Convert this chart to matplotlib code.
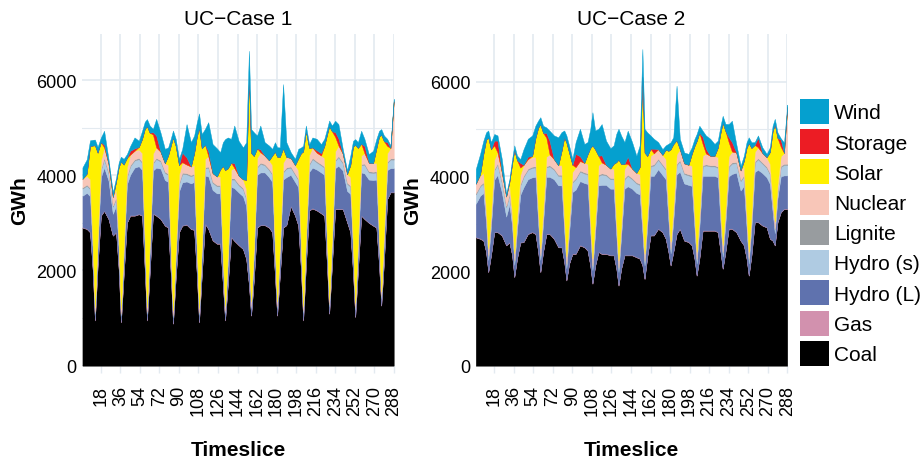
"""Despacho horario por tecnología: UC-Case 1 vs UC-Case 2 (288 timeslices).

Valores leídos a ojo del gráfico original, muestreados en 8 horas por día
(12 días de 24 timeslices) más el último timeslice.
"""

import matplotlib

matplotlib.use("Agg")  # Sin display.
import matplotlib.pyplot as plt
from matplotlib.patches import Patch

plt.rcParams["font.family"] = ["Liberation Sans", "DejaVu Sans"]

HORAS_MUESTRA = [1, 5, 8, 10.5, 12.5, 15, 18, 21]
DIAS = 12
ULTIMO_TIMESLICE = 288

TECNOLOGIAS = ["Coal", "Gas", "Hydro (L)", "Hydro (s)", "Lignite",
               "Nuclear", "Solar", "Storage", "Wind"]
COLORES = ["#000000", "#D291AE", "#5F72AE", "#AFCBE2", "#989C9F",
           "#F8C6B8", "#FFF000", "#EC1C24", "#05A0CF"]
TICKS_X = [18, 36, 54, 72, 90, 108, 126, 144, 162, 180, 198, 216, 234, 252, 270, 288]
TICKS_Y = [0, 2000, 4000, 6000]

# ---------------------------------------------------------------- UC-Case 1
COAL_1 = [
    2900, 2870, 2800, 2000, 950, 2100, 3150, 3250,
    3080, 2730, 2800, 2000, 910, 1900, 3000, 3150,
    3150, 3180, 3150, 2000, 950, 1950, 3190, 3150,
    3080, 2940, 2900, 1900, 880, 1850, 2800, 2940,
    2960, 2870, 2850, 1900, 910, 1900, 2980, 2870,
    2630, 2560, 2560, 1700, 950, 1700, 2700, 2620,
    2530, 2450, 2240, 1700, 1050, 1800, 2900, 2950,
    2950, 2900, 2800, 1900, 1050, 1900, 2900, 2950,
    3350, 3150, 2940, 2000, 950, 2100, 3260, 3300,
    3260, 3200, 3150, 2100, 1090, 2100, 3290, 3290,
    3290, 3010, 2800, 1950, 1020, 2000, 3150, 3080,
    3000, 2940, 2900, 2100, 1260, 2200, 3500, 3640,
    3640,
]
GAS_1 = [
    10, 10, 10, 10, 10, 10, 10, 10,
    10, 10, 10, 10, 10, 10, 10, 10,
    10, 10, 10, 10, 10, 10, 10, 10,
    10, 10, 10, 10, 10, 10, 10, 10,
    10, 10, 10, 10, 10, 10, 10, 10,
    10, 10, 10, 10, 10, 10, 10, 10,
    10, 10, 10, 10, 10, 10, 10, 10,
    10, 10, 10, 10, 10, 10, 10, 10,
    10, 10, 10, 10, 10, 10, 10, 10,
    10, 10, 10, 10, 10, 10, 10, 10,
    10, 10, 10, 10, 10, 10, 10, 10,
    10, 10, 10, 10, 10, 10, 10, 10,
    10,
]
HIDRO_L_1 = [
    660, 750, 750, 400, 130, 400, 800, 900,
    800, 450, 550, 400, 130, 400, 800, 850,
    1000, 1000, 950, 450, 130, 450, 900, 1000,
    1050, 950, 950, 400, 130, 400, 850, 900,
    900, 950, 1000, 450, 150, 450, 1000, 1100,
    1050, 1050, 1050, 450, 150, 450, 1050, 1100,
    1100, 1100, 1100, 500, 150, 500, 1100, 1100,
    1100, 1050, 1050, 450, 150, 450, 1000, 1000,
    650, 700, 800, 400, 150, 450, 800, 850,
    850, 850, 850, 400, 150, 400, 850, 900,
    800, 650, 800, 450, 150, 450, 900, 950,
    900, 950, 1000, 450, 150, 450, 600, 500,
    500,
]
HIDRO_S_1 = [
    150, 150, 150, 80, 40, 80, 150, 180,
    150, 150, 150, 80, 40, 80, 150, 180,
    150, 150, 150, 80, 40, 80, 150, 180,
    150, 150, 150, 80, 40, 80, 150, 180,
    150, 150, 150, 80, 40, 80, 150, 180,
    150, 150, 150, 80, 40, 80, 150, 180,
    150, 150, 150, 80, 40, 80, 150, 180,
    150, 150, 150, 80, 40, 80, 150, 180,
    150, 150, 150, 80, 40, 80, 150, 180,
    150, 150, 150, 80, 40, 80, 150, 180,
    150, 150, 150, 80, 40, 80, 150, 180,
    150, 150, 150, 80, 40, 80, 150, 180,
    180,
]
LIGNITO_1 = [
    25, 25, 25, 15, 10, 15, 25, 25,
    25, 25, 25, 15, 10, 15, 25, 25,
    25, 25, 25, 15, 10, 15, 25, 25,
    25, 25, 25, 15, 10, 15, 25, 25,
    25, 25, 25, 15, 10, 15, 25, 25,
    25, 25, 25, 15, 10, 15, 25, 25,
    25, 25, 25, 15, 10, 15, 25, 25,
    25, 25, 25, 15, 10, 15, 25, 25,
    25, 25, 25, 15, 10, 15, 25, 25,
    25, 25, 25, 15, 10, 15, 25, 25,
    25, 25, 25, 15, 10, 15, 25, 25,
    25, 25, 25, 15, 10, 15, 25, 25,
    25,
]
NUCLEAR_1 = [
    180, 180, 180, 120, 90, 120, 180, 220,
    180, 180, 180, 120, 90, 120, 180, 220,
    180, 180, 180, 120, 90, 120, 180, 220,
    180, 180, 180, 120, 90, 120, 180, 220,
    180, 180, 180, 120, 90, 120, 180, 220,
    180, 180, 180, 120, 90, 120, 180, 220,
    180, 180, 180, 120, 90, 120, 180, 220,
    180, 180, 180, 120, 90, 120, 180, 220,
    180, 180, 180, 120, 90, 120, 180, 220,
    180, 180, 180, 120, 90, 120, 180, 220,
    180, 180, 180, 120, 90, 120, 180, 220,
    180, 180, 180, 120, 90, 120, 180, 220,
    1200,
]
SOLAR_1 = [
    0, 50, 700, 2000, 3400, 1750, 380, 0,
    0, 0, 150, 1550, 3100, 1700, 200, 0,
    0, 50, 300, 2300, 3800, 2270, 400, 0,
    0, 0, 200, 2100, 3630, 2140, 200, 0,
    0, 0, 250, 2240, 3790, 1990, 300, 0,
    0, 0, 150, 1820, 2860, 1770, 150, 0,
    0, 0, 200, 3670, 3120, 1880, 200, 0,
    0, 0, 200, 1920, 3040, 1810, 300, 0,
    0, 0, 250, 1840, 3250, 2150, 150, 0,
    0, 0, 250, 2130, 3640, 2200, 300, 0,
    0, 0, 250, 1980, 3320, 1900, 250, 0,
    0, 0, 300, 2040, 3290, 1840, 150, 0,
    0,
]
ALMACEN_1 = [
    0, 0, 0, 0, 0, 0, 0, 60,
    0, 0, 0, 0, 0, 0, 0, 80,
    50, 0, 0, 0, 0, 0, 50, 250,
    0, 0, 0, 0, 0, 0, 0, 200,
    150, 0, 0, 0, 0, 0, 0, 100,
    0, 0, 0, 0, 0, 0, 0, 100,
    0, 0, 0, 0, 0, 0, 0, 60,
    0, 0, 0, 0, 0, 0, 0, 0,
    0, 0, 0, 0, 0, 0, 0, 0,
    50, 50, 0, 0, 0, 0, 100, 150,
    0, 0, 0, 0, 0, 0, 0, 150,
    0, 0, 0, 0, 0, 0, 80, 0,
    0,
]
EOLICA_1 = [
    240, 300, 120, 120, 120, 120, 100, 290,
    100, 100, 80, 100, 100, 120, 80, 100,
    230, 130, 170, 150, 150, 150, 70, 350,
    400, 300, 170, 150, 150, 150, 130, 80,
    700, 510, 370, 300, 300, 300, 330, 610,
    610, 590, 360, 500, 650, 650, 500, 790,
    730, 670, 790, 520, 500, 500, 270, 500,
    280, 310, 140, 200, 200, 200, 1350, 310,
    120, 130, 200, 120, 120, 120, 80, 210,
    240, 190, 150, 120, 120, 120, 240, 300,
    100, 80, 200, 120, 120, 120, 270, 150,
    180, 260, 200, 120, 120, 120, 70, 50,
    50,
]

# ---------------------------------------------------------------- UC-Case 2
COAL_2 = [
    2710, 2680, 2640, 2400, 1975, 2330, 2820, 2820,
    2750, 2540, 2600, 2330, 1870, 2260, 2600, 2610,
    2780, 2820, 2780, 2400, 1975, 2400, 2780, 2780,
    2680, 2500, 2500, 2190, 1800, 2150, 2360, 2360,
    2540, 2500, 2430, 2110, 1730, 2110, 2400, 2360,
    2360, 2330, 2330, 2050, 1690, 2050, 2330, 2330,
    2330, 2290, 2260, 2120, 1830, 2300, 2750, 2750,
    2890, 2820, 2680, 2400, 2115, 2400, 2780, 2890,
    2640, 2610, 2540, 2260, 1900, 2260, 2850, 2850,
    2850, 2850, 2820, 2400, 2045, 2400, 2890, 2890,
    2820, 2640, 2540, 2260, 1900, 2330, 3030, 3030,
    2960, 2920, 2680, 2640, 2540, 3030, 3240, 3310,
    3310,
]
GAS_2 = [
    10, 10, 10, 10, 10, 10, 10, 10,
    10, 10, 10, 10, 10, 10, 10, 10,
    10, 10, 10, 10, 10, 10, 10, 10,
    10, 10, 10, 10, 10, 10, 10, 10,
    10, 10, 10, 10, 10, 10, 10, 10,
    10, 10, 10, 10, 10, 10, 10, 10,
    10, 10, 10, 10, 10, 10, 10, 10,
    10, 10, 10, 10, 10, 10, 10, 10,
    10, 10, 10, 10, 10, 10, 10, 10,
    10, 10, 10, 10, 10, 10, 10, 10,
    10, 10, 10, 10, 10, 10, 10, 10,
    10, 10, 10, 10, 10, 10, 10, 10,
    10,
]
HIDRO_L_2 = [
    700, 900, 1000, 600, 250, 600, 1100, 1200,
    900, 600, 800, 600, 250, 600, 1000, 1150,
    1150, 1150, 1200, 600, 250, 600, 1200, 1200,
    1250, 1300, 1300, 650, 250, 650, 1300, 1350,
    1350, 1350, 1400, 700, 280, 700, 1400, 1450,
    1450, 1400, 1400, 700, 280, 700, 1400, 1450,
    1400, 1350, 1350, 700, 280, 650, 1250, 1250,
    1250, 1200, 1250, 650, 250, 650, 1250, 1200,
    1200, 1200, 1250, 650, 250, 650, 1150, 1150,
    1150, 1150, 1150, 600, 250, 600, 1100, 1150,
    1250, 1050, 1250, 650, 250, 600, 1050, 1100,
    1100, 1050, 1150, 600, 250, 500, 750, 700,
    700,
]
HIDRO_S_2 = [
    200, 200, 200, 120, 80, 120, 200, 220,
    200, 200, 200, 120, 80, 120, 200, 220,
    200, 200, 200, 120, 80, 120, 200, 220,
    200, 200, 200, 120, 80, 120, 200, 220,
    200, 200, 200, 120, 80, 120, 200, 220,
    200, 200, 200, 120, 80, 120, 200, 220,
    200, 200, 200, 120, 80, 120, 200, 220,
    200, 200, 200, 120, 80, 120, 200, 220,
    200, 200, 200, 120, 80, 120, 200, 220,
    200, 200, 200, 120, 80, 120, 200, 220,
    200, 200, 200, 120, 80, 120, 200, 220,
    200, 200, 200, 120, 80, 120, 200, 220,
    220,
]
LIGNITO_2 = [
    25, 25, 25, 20, 15, 20, 25, 25,
    25, 25, 25, 20, 15, 20, 25, 25,
    25, 25, 25, 20, 15, 20, 25, 25,
    25, 25, 25, 20, 15, 20, 25, 25,
    25, 25, 25, 20, 15, 20, 25, 25,
    25, 25, 25, 20, 15, 20, 25, 25,
    25, 25, 25, 20, 15, 20, 25, 25,
    25, 25, 25, 20, 15, 20, 25, 25,
    25, 25, 25, 20, 15, 20, 25, 25,
    25, 25, 25, 20, 15, 20, 25, 25,
    25, 25, 25, 20, 15, 20, 25, 25,
    25, 25, 25, 20, 15, 20, 25, 25,
    25,
]
NUCLEAR_2 = [
    200, 200, 200, 150, 150, 150, 200, 230,
    200, 200, 200, 150, 150, 150, 200, 230,
    200, 200, 200, 150, 150, 150, 200, 230,
    200, 200, 200, 150, 150, 150, 200, 230,
    200, 200, 200, 150, 150, 150, 200, 230,
    200, 200, 200, 150, 150, 150, 200, 230,
    200, 200, 200, 150, 150, 150, 200, 230,
    200, 200, 200, 150, 150, 150, 200, 230,
    200, 200, 200, 150, 150, 150, 200, 230,
    200, 200, 200, 150, 150, 150, 200, 230,
    200, 200, 200, 150, 150, 150, 200, 230,
    200, 200, 200, 150, 150, 150, 200, 230,
    1200,
]
SOLAR_2 = [
    0, 30, 400, 1480, 2340, 1340, 300, 0,
    0, 0, 50, 1040, 2180, 1180, 150, 0,
    0, 30, 400, 1730, 2620, 1620, 400, 0,
    0, 0, 300, 1680, 2410, 1400, 150, 0,
    0, 0, 200, 1490, 2390, 1460, 200, 0,
    0, 0, 100, 1250, 2130, 1210, 100, 0,
    0, 0, 150, 2980, 2140, 1180, 150, 0,
    0, 0, 200, 1190, 1950, 1330, 300, 0,
    0, 0, 250, 1430, 2340, 1710, 250, 0,
    0, 0, 200, 1620, 2580, 1660, 300, 0,
    0, 0, 100, 1390, 2300, 1370, 150, 0,
    0, 0, 250, 1410, 2050, 980, 200, 0,
    0,
]
ALMACEN_2 = [
    0, 0, 0, 0, 0, 0, 100, 250,
    0, 0, 0, 0, 0, 0, 100, 0,
    50, 0, 0, 0, 0, 0, 100, 280,
    0, 0, 0, 0, 0, 0, 0, 280,
    100, 0, 0, 0, 0, 0, 0, 150,
    0, 0, 0, 0, 0, 0, 0, 150,
    0, 0, 0, 0, 0, 0, 0, 100,
    0, 0, 0, 0, 0, 0, 0, 0,
    0, 0, 0, 0, 0, 0, 150, 100,
    0, 0, 0, 0, 0, 0, 100, 200,
    0, 0, 0, 0, 0, 0, 0, 200,
    0, 0, 0, 0, 0, 0, 150, 0,
    0,
]
EOLICA_2 = [
    310, 430, 280, 150, 150, 150, 140, 110,
    280, 60, 60, 100, 100, 100, 80, 330,
    380, 430, 260, 150, 150, 150, 120, 220,
    500, 590, 400, 150, 150, 150, 120, 250,
    580, 400, 260, 400, 700, 400, 570, 660,
    510, 430, 390, 600, 650, 600, 460, 550,
    560, 360, 460, 590, 500, 500, 280, 210,
    150, 120, 90, 150, 150, 150, 1150, 220,
    230, 230, 140, 150, 150, 150, 130, 280,
    360, 250, 150, 150, 150, 150, 280, 450,
    180, 100, 110, 120, 120, 120, 60, 50,
    120, 70, 100, 120, 120, 120, 30, 220,
    50,
]

CASO_1 = [COAL_1, GAS_1, HIDRO_L_1, HIDRO_S_1, LIGNITO_1,
          NUCLEAR_1, SOLAR_1, ALMACEN_1, EOLICA_1]
CASO_2 = [COAL_2, GAS_2, HIDRO_L_2, HIDRO_S_2, LIGNITO_2,
          NUCLEAR_2, SOLAR_2, ALMACEN_2, EOLICA_2]

COLOR_GRILLA = "#E3EAF0"


def timeslices() -> list[float]:
    """Posición de cada muestra en el eje de timeslices (1..288)."""
    return [24 * d + h for d in range(DIAS) for h in HORAS_MUESTRA] + [ULTIMO_TIMESLICE]


def graficar_panel(ax, series, titulo: str, ymax: float) -> None:
    x = timeslices()
    ax.stackplot(x, *series, colors=COLORES, linewidth=0.3, edgecolor="face")

    ax.set_xlim(1, ULTIMO_TIMESLICE)
    ax.set_ylim(0, ymax)
    ax.set_xticks(TICKS_X)
    ax.set_yticks(TICKS_Y)
    ax.set_yticks([1000, 3000, 5000], minor=True)
    ax.grid(True, which="major", color=COLOR_GRILLA, linewidth=1.2)
    ax.grid(True, which="minor", axis="y", color=COLOR_GRILLA, linewidth=0.8)
    ax.set_axisbelow(True)

    # Estilo tipo ggplot minimal: sin bordes de panel.
    for lado in ("top", "right", "left", "bottom"):
        ax.spines[lado].set_visible(False)

    ax.tick_params(axis="x", labelrotation=90, labelsize=13, length=5,
                   width=1, color=COLOR_GRILLA, pad=9)
    ax.tick_params(axis="y", labelsize=13, length=0, pad=4)
    ax.tick_params(axis="y", which="minor", length=0)

    ax.set_title(titulo, fontsize=15, pad=7)
    ax.set_xlabel("Timeslice", fontsize=15, fontweight="bold")
    ax.set_ylabel("GWh", fontsize=15, fontweight="bold")
    ax.xaxis.set_label_coords(0.5, -0.225)
    ax.yaxis.set_label_coords(-0.172, 0.5)


def main() -> None:
    fig = plt.figure(figsize=(9.24, 4.64), dpi=100)
    ax1 = fig.add_axes([0.0892, 0.2097, 0.3369, 0.7149])
    ax2 = fig.add_axes([0.5149, 0.2097, 0.3371, 0.7149])

    graficar_panel(ax1, CASO_1, "UC\u2212Case 1", 6968)
    graficar_panel(ax2, CASO_2, "UC\u2212Case 2", 7008)

    # Leyenda: de arriba hacia abajo en orden inverso al apilado.
    manejadores = [Patch(facecolor=c, edgecolor="none") for c in COLORES][::-1]
    fig.legend(manejadores, TECNOLOGIAS[::-1], loc="upper left",
               bbox_to_anchor=(0.8658, 0.7845), frameon=False, fontsize=15,
               handlelength=1.38, handleheight=1.47, handletextpad=0.25,
               labelspacing=0.25, borderpad=0, borderaxespad=0)

    fig.savefig("out.png", dpi=100)
    plt.close(fig)


if __name__ == "__main__":
    main()
